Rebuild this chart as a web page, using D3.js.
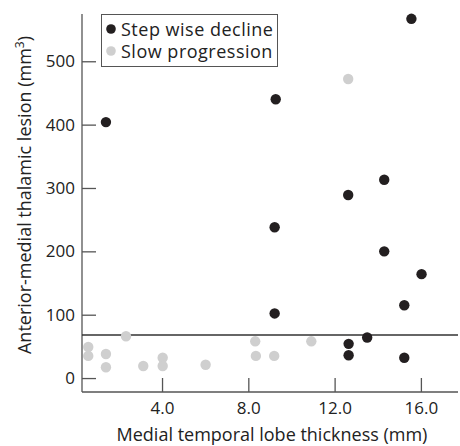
<!DOCTYPE html>
<html>
<head>
<meta charset="utf-8">
<script src="https://cdn.jsdelivr.net/npm/d3@7"></script>
<style>
  body { margin: 0; background: #fff; }
  svg { font-family: "Open Sans", Lato, sans-serif; }
  .axis path, .axis line { stroke: #555; stroke-width: 1.3; }
  .axis text { font-size: 17px; fill: #222; font-family: "Open Sans", sans-serif; }
</style>
</head>
<body>
<svg id="chart" width="460" height="446"></svg>
<script>
  // step wise decline group
  var stepX = [1.40, 9.27, 9.22, 9.22, 12.65, 12.65, 12.63, 13.51, 14.3, 14.3, 15.23, 15.23, 15.56, 16.03];
  var stepY = [404, 440, 238, 102, 54, 36, 289, 64, 313, 200, 115, 32, 567, 164];
  // slow progression group
  var slowX = [0.58, 0.58, 1.40, 1.40, 2.33, 3.13, 4.03, 4.03, 6.02, 8.32, 8.35, 9.2, 10.92, 12.63];
  var slowY = [49, 35, 38, 17, 66, 19, 32, 19, 21, 58, 35, 35, 58, 472];
  var xTicks = [4, 8, 12, 16];
  var yTicks = [0, 100, 200, 300, 400, 500];
  var cutoff = 68;
  var seriesNames = ["Step wise decline", "Slow progression"];
  var seriesColors = ["#231f20", "#cfcfcf"];

  var margin = {top: 14, right: 2, bottom: 54, left: 82};
  var svg = d3.select('#chart');
  var w = 460 - margin.left - margin.right,
      h = 446 - margin.top - margin.bottom;
  var g = svg.append('g').attr('transform', `translate(${margin.left},${margin.top})`);

  var x = d3.scaleLinear().domain([0.29, 17.72]).range([0, w]);
  var y = d3.scaleLinear().domain([-22, 574.6]).range([h, 0]);

  var xAxis = g.append('g').attr('class', 'axis')
    .attr('transform', `translate(0,${h})`)
    .call(d3.axisBottom(x).tickValues(xTicks).tickFormat(d3.format('.1f'))
      .tickSizeInner(-14).tickSizeOuter(0).tickPadding(10));
  xAxis.select('.domain').attr('d', `M0,0H${w}`);

  var yAxis = g.append('g').attr('class', 'axis')
    .call(d3.axisLeft(y).tickValues(yTicks)
      .tickSizeInner(-14).tickSizeOuter(0).tickPadding(7));
  yAxis.select('.domain').attr('d', `M0,0V${h}`);

  // cutoff line
  g.append('line')
    .attr('x1', 0).attr('x2', w)
    .attr('y1', y(cutoff)).attr('y2', y(cutoff))
    .attr('stroke', '#333').attr('stroke-width', 1.5);

  var slow = slowX.map((d, i) => [d, slowY[i]]);
  var step = stepX.map((d, i) => [d, stepY[i]]);

  g.selectAll('.slow').data(slow).enter().append('circle')
    .attr('class', 'slow')
    .attr('cx', d => x(d[0])).attr('cy', d => y(d[1]))
    .attr('r', 5.2).attr('fill', seriesColors[1]);

  g.selectAll('.step').data(step).enter().append('circle')
    .attr('class', 'step')
    .attr('cx', d => x(d[0])).attr('cy', d => y(d[1]))
    .attr('r', 5.2).attr('fill', seriesColors[0]);

  // legend
  var lg = svg.append('g');
  lg.append('rect')
    .attr('x', 101.5).attr('y', 14.5).attr('width', 176).attr('height', 52)
    .attr('fill', '#fff').attr('stroke', '#555').attr('stroke-width', 1);
  seriesNames.forEach(function(name, i) {
    lg.append('circle').attr('cx', 111).attr('cy', 29 + i * 22).attr('r', 4.8)
      .attr('fill', seriesColors[i]);
    lg.append('text').attr('x', 121).attr('y', 35.5 + i * 22)
      .attr('font-size', 18).attr('letter-spacing', 0.5)
      .attr('fill', '#222').text(name);
  });

  // axis titles
  svg.append('text')
    .attr('x', 272).attr('y', 441)
    .attr('text-anchor', 'middle').attr('font-size', 18).attr('fill', '#222')
    .text('Medial temporal lobe thickness (mm)');

  var yt = svg.append('text')
    .attr('transform', 'translate(31,195) rotate(-90)')
    .attr('text-anchor', 'middle').attr('font-size', 18).attr('fill', '#222');
  yt.append('tspan').text('Anterior-medial thalamic lesion (mm');
  yt.append('tspan').attr('font-size', 12).attr('dy', -7).text('3');
  yt.append('tspan').attr('dy', 7).text(')');
</script>
</body>
</html>
